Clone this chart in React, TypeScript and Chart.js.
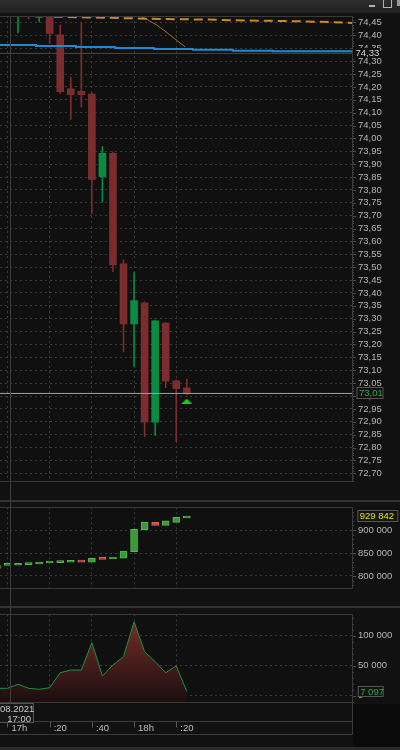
import React, { useEffect, useRef } from "react";
import { Chart, registerables } from "chart.js";

Chart.register(...registerables);

// ---------- time axis (minutes after 17:00) ----------
const xMin = -3.55;
const xMax = 163.3;
const timeTickMinutes = [0, 20, 40, 60, 80];
const timeTickLabels = ["17h", ":20", ":40", "18h", ":20"];
const crossDate = "08.2021";
const crossTime = "17:00";

// ---------- main price panel (5-minute candles) ----------
const candleMinutes = [5, 10, 15, 20, 25, 30, 35, 40, 45, 50, 55, 60, 65, 70, 75, 80, 85];
const candleOpen = [74.49, 74.51, 74.47, 74.485, 74.402, 74.192, 74.183, 74.172, 73.851, 73.942, 73.513, 73.28, 73.362, 72.898, 73.283, 73.059, 73.032];
const candleHigh = [74.54, 74.52, 74.5, 74.49, 74.44, 74.237, 74.449, 74.178, 73.968, 73.947, 73.528, 73.479, 73.366, 73.295, 73.285, 73.062, 73.066];
const candleLow = [74.41, 74.464, 74.452, 74.369, 74.175, 74.074, 74.121, 73.707, 73.753, 73.483, 73.171, 73.114, 72.842, 72.847, 73.032, 72.823, 73.005];
const candleClose = [74.52, 74.49, 74.49, 74.408, 74.181, 74.17, 74.17, 73.841, 73.942, 73.509, 73.28, 73.37, 72.898, 73.292, 73.058, 73.028, 73.01];

const priceMin = 72.665;
const priceMax = 74.4752;
const priceTicks = [
  72.7, 72.75, 72.8, 72.85, 72.9, 72.95, 73.0, 73.05, 73.1, 73.15, 73.2, 73.25,
  73.3, 73.35, 73.4, 73.45, 73.5, 73.55, 73.6, 73.65, 73.7, 73.75, 73.8, 73.85,
  73.9, 73.95, 74.0, 74.05, 74.1, 74.15, 74.2, 74.25, 74.3, 74.35, 74.4, 74.45,
];

// blue moving average (stepped)
const maMinutes = [-3.55, 13.5, 32.5, 50.9, 69.4, 87.9, 106.9, 125.8, 144.3, 163.3];
const maValues = [74.3665, 74.3627, 74.3588, 74.3549, 74.351, 74.3471, 74.3444, 74.3405, 74.3382, 74.3382];
const maLevel = 74.33;

// orange dashed average
const slowMinutes = [15.4, 22.5, 48.6, 72.3, 92.7, 111.6, 131.5, 152.8, 163.3];
const slowValues = [74.481, 74.4725, 74.4682, 74.4636, 74.4616, 74.4578, 74.4558, 74.4519, 74.448];

// thin orange curve
const curveMinutes = [60.9, 63.6, 70.7, 77.0, 84.1];
const curveValues = [74.485, 74.4725, 74.4403, 74.4015, 74.356];

const lastPrice = 73.01;
const signalMinute = 85;
const signalPrice = 72.98;

// ---------- cumulative indicator panel ----------
const indMinutes = [-5, 0, 5, 10, 15, 20, 25, 30, 35, 40, 45, 50, 55, 60, 65, 70, 75, 80, 85];
const indOpen = [816700, 823000, 823300, 824600, 826100, 828300, 829000, 829800, 831100, 830000, 838500, 837000, 838500, 852800, 900700, 916700, 910200, 916700, 926100];
const indClose = [823900, 823600, 825400, 826700, 828900, 829800, 829800, 831100, 830000, 838500, 836300, 839800, 854300, 901500, 916700, 910200, 920200, 927600, 929842];
const indMin = 771739;
const indMax = 949348;
const indTicks = [800000, 850000, 900000];

// ---------- volume panel ----------
const volMinutes = [-5, 0, 5, 10, 15, 20, 25, 30, 35, 40, 45, 50, 55, 60, 65, 70, 75, 80, 85];
const volValues = [12300, 12300, 19000, 12300, 10700, 13300, 38300, 42800, 42800, 88300, 32800, 51200, 65000, 123300, 73300, 56700, 38300, 49500, 7097];
const volMin = -12667;
const volMax = 135667;
const volTicks = [0, 50000, 100000];

// ---------- styles ----------
const FONT = "'Liberation Sans', Arial, sans-serif";
const FS = 9.5;
const PAGE_BG = "#111111";
const PLOT_BG = "#101010";
const GRID = "#383838";
const FRAME = "#3a3a3a";
const LABEL = "#b4b4b4";
const UP = "#0a8a42";
const DOWN = "#7b2c2c";

const fmtPrice = (v: number) => v.toFixed(2).replace(".", ",");
const fmtSpace = (v: number) => String(Math.round(v)).replace(/\B(?=(\d{3})+(?!\d))/g, " ");

const zeroPad = (s: any) => {
  s.paddingLeft = 0;
  s.paddingRight = 0;
  s.paddingTop = 0;
  s.paddingBottom = 0;
};

const framePlugin: any = {
  id: "frame",
  beforeDraw(chart: any, _a: any, o: any) {
    const { ctx, chartArea: a, width, height } = chart;
    ctx.save();
    ctx.fillStyle = PAGE_BG;
    ctx.fillRect(0, 0, width, height);
    if (o.darkCorner) {
      ctx.fillStyle = "#0b0b0b";
      ctx.fillRect(a.right + 1, a.bottom + 1, width - a.right, height - a.bottom);
    }
    ctx.fillStyle = PLOT_BG;
    ctx.fillRect(a.left, a.top, a.right - a.left, a.bottom - a.top);
    ctx.restore();
  },
  afterDraw(chart: any, _a: any, o: any) {
    const { ctx, chartArea: a } = chart;
    const ys = chart.scales.y;
    const xs = chart.scales.x;
    ctx.save();
    ctx.lineWidth = 1;
    // ruler on the value axis
    if (o.minorStep) {
      ctx.strokeStyle = "#4a4a4a";
      const k0 = Math.ceil(ys.min / o.minorStep);
      const k1 = Math.floor(ys.max / o.minorStep);
      for (let k = k0; k <= k1; k++) {
        const v = k * o.minorStep;
        const r = v / o.majorStep;
        const major = Math.abs(r - Math.round(r)) < 1e-6;
        const y = Math.round(ys.getPixelForValue(v)) + 0.5;
        ctx.beginPath();
        ctx.moveTo(a.right, y);
        ctx.lineTo(a.right + (major ? 4 : 2), y);
        ctx.stroke();
      }
    }
    // panel frame
    ctx.strokeStyle = FRAME;
    const x1 = Math.round(a.right) + 0.5;
    const y0 = Math.round(a.top) + 0.5;
    const y1 = Math.round(a.bottom) - 0.5;
    ctx.beginPath();
    ctx.moveTo(0, y0);
    ctx.lineTo(x1, y0);
    ctx.lineTo(x1, y1);
    ctx.lineTo(0, y1);
    ctx.stroke();
    // time axis band
    if (o.timeAxis) {
      const t1 = Math.round(a.bottom + 17.7) + 0.5;
      const t2 = Math.round(a.bottom + 30.7) + 0.5;
      ctx.strokeStyle = FRAME;
      ctx.beginPath();
      ctx.moveTo(0, t1);
      ctx.lineTo(x1, t1);
      ctx.moveTo(0, t2);
      ctx.lineTo(x1, t2);
      ctx.moveTo(x1, y1);
      ctx.lineTo(x1, t2);
      ctx.stroke();
      ctx.strokeStyle = "#555555";
      for (const t of xs.ticks) {
        const x = Math.round(xs.getPixelForValue(t.value)) + 0.5;
        ctx.beginPath();
        ctx.moveTo(x, t1);
        ctx.lineTo(x, t1 + 6);
        ctx.stroke();
      }
    }
    // value boxes
    for (const b of o.boxes || []) {
      const y = ys.getPixelForValue(b.value);
      const top = Math.round(y - b.h / 2);
      ctx.fillStyle = b.bg;
      ctx.fillRect(b.x, top, b.w, b.h);
      if (b.border) {
        ctx.strokeStyle = b.border;
        ctx.strokeRect(b.x + 0.5, top + 0.5, b.w - 1, b.h - 1);
      }
      ctx.fillStyle = b.color;
      ctx.font = `${FS}px ${FONT}`;
      ctx.textBaseline = "middle";
      ctx.textAlign = "left";
      ctx.fillText(b.text, b.x + 2.5, top + b.h / 2 + 0.5);
    }
    ctx.restore();
  },
};

const xScale = (showLabels: boolean, height: number) => ({
  type: "linear",
  position: "bottom",
  min: xMin,
  max: xMax,
  offset: false,
  afterBuildTicks: (s: any) => {
    s.ticks = timeTickMinutes.map((v) => ({ value: v }));
  },
  afterFit: (s: any) => {
    s.height = height;
    zeroPad(s);
  },
  ticks: {
    display: showLabels,
    autoSkip: false,
    maxRotation: 0,
    align: "start",
    labelOffset: 4,
    padding: 19,
    color: "#bdbdbd",
    font: { family: FONT, size: FS },
    callback: (v: any) => {
      const i = timeTickMinutes.indexOf(Number(v));
      return i >= 0 ? timeTickLabels[i] : "";
    },
  },
  grid: { color: GRID, drawTicks: false, offset: false },
  border: { display: false, dash: [2, 3] },
});

const yScale = (min: number, max: number, ticks: number[], fmt: (v: number) => string) => ({
  type: "linear",
  position: "right",
  min,
  max,
  afterBuildTicks: (s: any) => {
    s.ticks = ticks.map((v) => ({ value: v }));
  },
  afterFit: (s: any) => {
    s.width = 48;
    zeroPad(s);
  },
  ticks: {
    autoSkip: false,
    padding: 6,
    color: LABEL,
    font: { family: FONT, size: FS },
    callback: (v: any) => fmt(Number(v)),
  },
  grid: { color: GRID, drawTicks: false },
  border: { display: false, dash: [2, 3] },
});

const baseOptions = (padTop: number, padBottom: number) => ({
  responsive: false,
  maintainAspectRatio: false,
  animation: false,
  events: [],
  layout: { padding: { top: padTop, bottom: padBottom, left: 0, right: 0 }, autoPadding: false },
});

function buildMain(canvas: HTMLCanvasElement, tri: HTMLCanvasElement) {
  const colors = candleMinutes.map((_, i) => (candleClose[i] >= candleOpen[i] ? UP : DOWN));
  return new Chart(canvas, {
    type: "line",
    plugins: [framePlugin],
    data: {
      datasets: [
        {
          type: "bar",
          data: candleMinutes.map((m, i) => ({ x: m, y: [candleLow[i], candleHigh[i]] })),
          backgroundColor: colors,
          borderWidth: 0,
          barThickness: 1,
          maxBarThickness: 1,
          grouped: false,
          order: 6,
        },
        {
          type: "bar",
          data: candleMinutes.map((m, i) => ({ x: m, y: [candleOpen[i], candleClose[i]] })),
          backgroundColor: colors,
          borderWidth: 0,
          barThickness: 7,
          maxBarThickness: 7,
          minBarLength: 1,
          grouped: false,
          order: 5,
        },
        {
          data: [{ x: xMin, y: lastPrice }, { x: xMax, y: lastPrice }],
          borderColor: "#a4a4a4",
          borderWidth: 1,
          pointRadius: 0,
          order: 4,
        },
        {
          data: [{ x: xMin, y: maLevel }, { x: xMax, y: maLevel }],
          borderColor: "#484848",
          borderWidth: 1,
          pointRadius: 0,
          order: 4,
        },
        {
          data: slowMinutes.map((m, i) => ({ x: m, y: slowValues[i] })),
          borderColor: "#cf8a1e",
          borderWidth: 2,
          borderDash: [9, 5],
          pointRadius: 0,
          order: 3,
        },
        {
          data: curveMinutes.map((m, i) => ({ x: m, y: curveValues[i] })),
          borderColor: "#a06c22",
          borderWidth: 1,
          pointRadius: 0,
          cubicInterpolationMode: "monotone",
          order: 3,
        },
        {
          data: maMinutes.map((m, i) => ({ x: m, y: maValues[i] })),
          borderColor: "#1c8ad6",
          borderWidth: 2,
          stepped: "after",
          pointRadius: 0,
          order: 2,
        },
        {
          data: [{ x: signalMinute, y: signalPrice }],
          showLine: false,
          pointStyle: tri,
          pointRadius: 5,
          order: 1,
        },
      ],
    },
    options: {
      ...baseOptions(16, 17.7),
      plugins: {
        legend: { display: false },
        tooltip: { enabled: false },
        frame: {
          minorStep: 0.01,
          majorStep: 0.05,
          boxes: [
            { value: maLevel, text: fmtPrice(maLevel), color: "#d4d4d4", bg: PAGE_BG, border: null, x: 353, w: 27, h: 10 },
            { value: lastPrice, text: fmtPrice(lastPrice), color: "#2fae4a", bg: PAGE_BG, border: "#555555", x: 356.5, w: 27, h: 12 },
          ],
        },
      },
      scales: {
        x: xScale(false, 0),
        y: yScale(priceMin, priceMax, priceTicks, fmtPrice),
      },
    } as any,
  } as any);
}

function buildInd(canvas: HTMLCanvasElement) {
  const up = indMinutes.map((_, i) => indClose[i] >= indOpen[i]);
  return new Chart(canvas, {
    type: "line",
    plugins: [framePlugin],
    data: {
      datasets: [
        {
          type: "bar",
          data: indMinutes.map((m, i) => ({ x: m, y: [indOpen[i], indClose[i]] })),
          backgroundColor: up.map((u) => (u ? "#389a38" : "#c8463c")),
          borderColor: up.map((u) => (u ? "#56b848" : "#de6452")),
          borderWidth: 1,
          borderSkipped: false,
          barThickness: 7,
          maxBarThickness: 7,
          minBarLength: 2,
          grouped: false,
        },
      ],
    },
    options: {
      ...baseOptions(5.3, 11),
      plugins: {
        legend: { display: false },
        tooltip: { enabled: false },
        frame: {
          minorStep: 10000,
          majorStep: 50000,
          boxes: [
            { value: indClose[indClose.length - 1], text: fmtSpace(indClose[indClose.length - 1]), color: "#e4e414", bg: "#141414", border: "#555555", x: 357.3, w: 41, h: 12 },
          ],
        },
      },
      scales: {
        x: xScale(false, 0),
        y: yScale(indMin, indMax, indTicks, fmtSpace),
      },
    } as any,
  } as any);
}

function buildVol(canvas: HTMLCanvasElement) {
  return new Chart(canvas, {
    type: "line",
    plugins: [framePlugin],
    data: {
      datasets: [
        {
          data: volMinutes.map((m, i) => ({ x: m, y: volValues[i] })),
          borderColor: "#1f8f3f",
          borderWidth: 1,
          pointRadius: 0,
          tension: 0,
          fill: "start",
          backgroundColor: (c: any) => {
            const area = c.chart.chartArea;
            if (!area) return "rgba(0,0,0,0)";
            const g = c.chart.ctx.createLinearGradient(0, area.top, 0, area.bottom);
            g.addColorStop(0, "#7c3030");
            g.addColorStop(0.5, "#4c1e1e");
            g.addColorStop(1, "#1a0e0e");
            return g;
          },
        },
      ],
    },
    options: {
      ...baseOptions(6.3, 0),
      plugins: {
        legend: { display: false },
        tooltip: { enabled: false },
        filler: { propagate: false },
        frame: {
          minorStep: 10000,
          majorStep: 50000,
          timeAxis: true,
          darkCorner: true,
          boxes: [
            { value: volValues[volValues.length - 1], text: fmtSpace(volValues[volValues.length - 1]), color: "#2aa04a", bg: "#141414", border: "#555555", x: 357.7, w: 26, h: 11 },
          ],
        },
      },
      scales: {
        x: xScale(true, 46.7),
        y: yScale(volMin, volMax, volTicks, fmtSpace),
      },
    } as any,
  } as any);
}

export default function App() {
  const mainRef = useRef<HTMLCanvasElement | null>(null);
  const indRef = useRef<HTMLCanvasElement | null>(null);
  const volRef = useRef<HTMLCanvasElement | null>(null);

  useEffect(() => {
    document.body.style.margin = "0";
    document.body.style.background = PAGE_BG;
    const tri = document.createElement("canvas");
    tri.width = 11;
    tri.height = 5;
    const t = tri.getContext("2d")!;
    t.fillStyle = "#16d016";
    t.beginPath();
    t.moveTo(0, 5);
    t.lineTo(5.5, 0);
    t.lineTo(11, 5);
    t.closePath();
    t.fill();
    const charts = [
      buildMain(mainRef.current!, tri),
      buildInd(indRef.current!),
      buildVol(volRef.current!),
    ];
    return () => charts.forEach((c) => c.destroy());
  }, []);

  const abs = (o: any) => ({ position: "absolute" as const, ...o });

  return (
    <div style={abs({ left: 0, top: 0, width: 400, height: 750, background: PAGE_BG, overflow: "hidden", fontFamily: FONT })}>
      <canvas ref={mainRef} width={400} height={500} style={abs({ left: 0, top: 0, width: 400, height: 500 })} />
      <canvas ref={indRef} width={400} height={98} style={abs({ left: 0, top: 502, width: 400, height: 98 })} />
      <canvas ref={volRef} width={400} height={142} style={abs({ left: 0, top: 608, width: 400, height: 142 })} />

      {/* title bar */}
      <div style={abs({ left: 0, top: 0, width: 400, height: 13, background: "linear-gradient(#2e2e2e, #212121)" })} />
      <div style={abs({ left: 369, top: 5, width: 6, height: 2, background: "#b4b4b4" })} />
      <div style={abs({ left: 383, top: -2, width: 7, height: 7, border: "1px solid #b4b4b4", borderTopWidth: 2 })} />
      <div style={abs({ left: 397, top: 0, width: 3, height: 6, background: "#9a9a9a" })} />

      {/* panel separators */}
      <div style={abs({ left: 0, top: 500, width: 400, height: 2, background: "#333333" })} />
      <div style={abs({ left: 0, top: 606, width: 400, height: 2, background: "#333333" })} />
      <div style={abs({ left: 0, top: 747, width: 400, height: 3, background: "#2a2a2a" })} />

      {/* crosshair */}
      <div style={abs({ left: 10, top: 16, width: 1, height: 687, background: "#3e3e3e" })} />
      <div
        style={abs({
          left: -1,
          top: 703,
          width: 35,
          height: 20,
          border: "1px solid #555555",
          background: "#161616",
          color: "#c8c8c8",
          fontSize: FS,
          lineHeight: "10px",
          textAlign: "right",
          paddingRight: 2,
          boxSizing: "border-box",
        })}
      >
        <div>{crossDate}</div>
        <div>{crossTime}</div>
      </div>
    </div>
  );
}
